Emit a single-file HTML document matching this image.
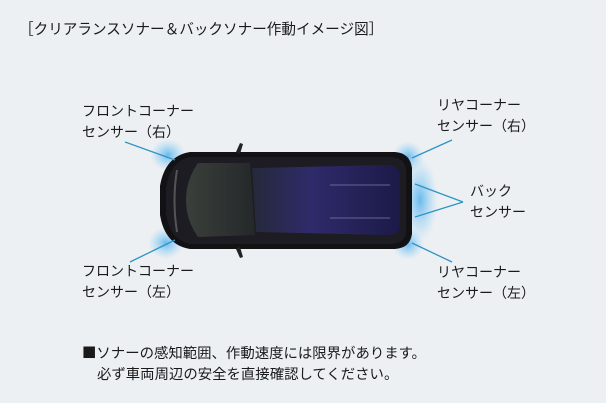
<!DOCTYPE html>
<html><head><meta charset="utf-8"><style>
html,body{margin:0;padding:0}
body{width:606px;height:403px;background:#edf0f3;position:relative;overflow:hidden;font-family:"Liberation Sans","Noto Sans CJK JP",sans-serif;color:#1a1a1a}
.t{position:absolute;font-size:14px;line-height:21px;white-space:nowrap}
svg{position:absolute;left:0;top:0}
</style></head><body>
<svg width="606" height="403" viewBox="0 0 606 403">
<defs>
<radialGradient id="g" cx="50%" cy="50%" r="50%"><stop offset="0" stop-color="#5ab4ee" stop-opacity=".9"/><stop offset="1" stop-color="#8fd0f5" stop-opacity="0"/></radialGradient>
<linearGradient id="roof" x1="0" x2="1"><stop offset="0" stop-color="#26293a"/><stop offset=".4" stop-color="#2f2a6a"/><stop offset="1" stop-color="#1c1a48"/></linearGradient>
<linearGradient id="ws" x1="0" x2="1"><stop offset="0" stop-color="#3a3f3a"/><stop offset="1" stop-color="#24282a"/></linearGradient>
</defs>
<ellipse cx="168" cy="155" rx="18" ry="16" fill="url(#g)"/>
<ellipse cx="166" cy="243" rx="18" ry="16" fill="url(#g)"/>
<ellipse cx="408" cy="157" rx="16" ry="16" fill="url(#g)"/>
<ellipse cx="408" cy="244" rx="16" ry="16" fill="url(#g)"/>
<ellipse cx="420" cy="200" rx="18" ry="42" fill="url(#g)"/>
<path d="M190 152 L395 152 Q410 153 412 168 L412 234 Q410 248 395 249 L190 249 Q165 245 160 215 L160 186 Q165 156 190 152 Z" fill="#121214"/>
<path d="M190 157 L392 157 Q405 158 406 170 L406 232 Q405 243 392 244 L190 244 Q170 240 166 214 L166 188 Q170 161 190 157 Z" fill="#1c1c22"/>
<path d="M198 163 L250 163 L255 235 L198 237 Q186 220 186 200 Q186 180 198 163 Z" fill="url(#ws)"/>
<path d="M252 168 L390 165 Q400 167 400 178 L400 224 Q400 234 390 235 L256 232 Z" fill="url(#roof)"/>
<line x1="330" y1="185" x2="390" y2="185" stroke="#7d7ab0" stroke-width="0.7"/>
<line x1="330" y1="218" x2="390" y2="218" stroke="#7d7ab0" stroke-width="0.7"/>
<path d="M177 170 Q172 200 177 232" stroke="#555" stroke-width="2" fill="none"/>
<path d="M236 152 L240 143 L243 144 L240 154 Z" fill="#222"/>
<path d="M236 249 L240 258 L243 257 L240 247 Z" fill="#222"/>
<g stroke="#2f93c4" stroke-width="1.3">
<line x1="125" y1="142" x2="175" y2="160"/>
<line x1="130" y1="262" x2="175" y2="240"/>
<line x1="452" y1="140" x2="412" y2="158"/>
<line x1="463" y1="202" x2="415" y2="184"/>
<line x1="463" y1="202" x2="415" y2="217"/>
<line x1="412" y1="243" x2="452" y2="262"/>
</g>
</svg>
<div class="t" style="left:19px;top:20px;font-size:14.6px">［クリアランスソナー＆バックソナー作動イメージ図］</div>
<div class="t" style="left:82px;top:101px">フロントコーナー<br>センサー（右）</div>
<div class="t" style="left:82px;top:261px">フロントコーナー<br>センサー（左）</div>
<div class="t" style="left:437px;top:95px">リヤコーナー<br>センサー（右）</div>
<div class="t" style="left:470px;top:181px">バック<br>センサー</div>
<div class="t" style="left:437px;top:262px">リヤコーナー<br>センサー（左）</div>
<div class="t" style="left:82px;top:342px;font-size:14.4px"><span style="font-family:'Noto Sans CJK JP',sans-serif">■</span>ソナーの感知範囲、作動速度には限界があります。</div>
<div class="t" style="left:97px;top:365px;font-size:14.4px">必ず車両周辺の安全を直接確認してください。</div>
</body></html>
